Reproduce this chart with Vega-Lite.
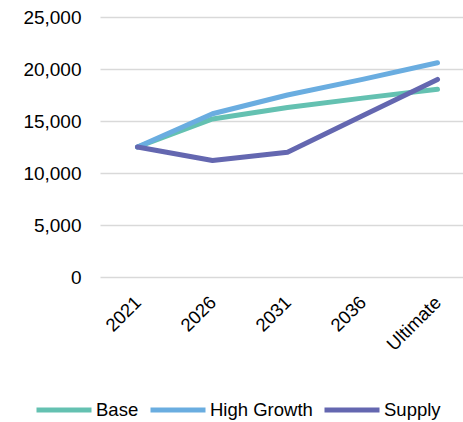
{
  "$schema": "https://vega.github.io/schema/vega-lite/v6.json",
  "autosize": {"type": "none"},
  "width": 375,
  "height": 260,
  "padding": {"left": 100, "top": 17, "right": 0, "bottom": 145},
  "background": "white",
  "data": {"values": [
    {"period": "2021", "scenario": "Base", "value": 12500},
    {"period": "2026", "scenario": "Base", "value": 15200},
    {"period": "2031", "scenario": "Base", "value": 16300},
    {"period": "2036", "scenario": "Base", "value": 17200},
    {"period": "Ultimate", "scenario": "Base", "value": 18050},
    {"period": "2021", "scenario": "High Growth", "value": 12500},
    {"period": "2026", "scenario": "High Growth", "value": 15700},
    {"period": "2031", "scenario": "High Growth", "value": 17500},
    {"period": "2036", "scenario": "High Growth", "value": 19000},
    {"period": "Ultimate", "scenario": "High Growth", "value": 20600},
    {"period": "2021", "scenario": "Supply", "value": 12500},
    {"period": "2026", "scenario": "Supply", "value": 11200},
    {"period": "2031", "scenario": "Supply", "value": 12000},
    {"period": "2036", "scenario": "Supply", "value": 15500},
    {"period": "Ultimate", "scenario": "Supply", "value": 19000}
  ]},
  "mark": {"type": "line", "strokeWidth": 5, "strokeCap": "round", "strokeJoin": "round"},
  "encoding": {
    "x": {
      "field": "period", "type": "ordinal", "sort": null,
      "scale": {"type": "point", "padding": 0.5},
      "axis": {"title": null, "labelAngle": -45, "labelAlign": "right", "labelBaseline": "middle", "labelFont": "Liberation Sans", "labelFontSize": 18.5, "labelColor": "#000000", "domain": false, "ticks": false, "grid": false, "labelPadding": 22}
    },
    "y": {
      "field": "value", "type": "quantitative",
      "scale": {"domain": [0, 25000], "nice": false},
      "axis": {"title": null, "values": [0, 5000, 10000, 15000, 20000, 25000], "format": ",.0f", "labelFont": "Liberation Sans", "labelFontSize": 19, "labelColor": "#000000", "domain": false, "ticks": false, "labelPadding": 19, "gridColor": "#d9d9d9", "gridWidth": 1.5}
    },
    "color": {
      "field": "scenario", "type": "nominal",
      "scale": {"domain": ["Base", "High Growth", "Supply"], "range": ["#64c1b1", "#6aade0", "#6467b0"]},
      "legend": {"title": null, "orient": "none", "legendX": -66, "legendY": 363, "direction": "horizontal", "symbolType": "stroke", "symbolSize": 3025, "symbolStrokeWidth": 5, "labelFont": "Liberation Sans", "labelFontSize": 18.5, "labelColor": "#000000", "labelOffset": 2, "columnPadding": 1}
    }
  },
  "config": {"view": {"stroke": null}}
}
